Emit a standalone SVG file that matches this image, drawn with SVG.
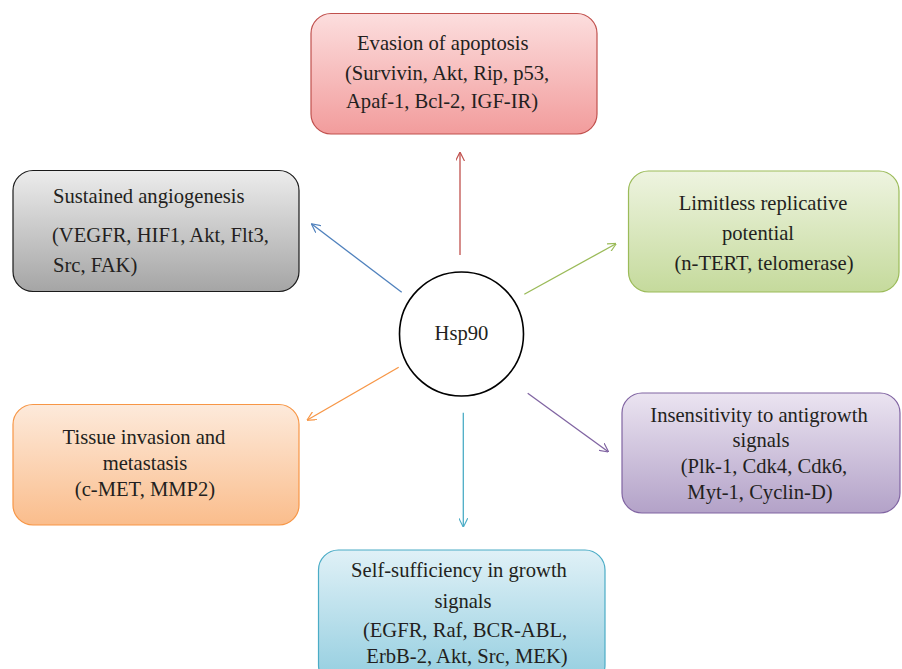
<svg xmlns="http://www.w3.org/2000/svg" width="902" height="669" viewBox="0 0 902 669">
<style>
text{font-family:"Liberation Serif","Times New Roman",serif;font-size:20.6px;fill:#231f20}
.m{text-anchor:middle}
.c{fill:none;stroke-width:1.3}
.b{stroke-width:1.2}
</style>
<defs>
<linearGradient id="gr" x1="0" y1="0" x2="0" y2="1"><stop offset="0" stop-color="#fcdede"/><stop offset="1" stop-color="#f29c9c"/></linearGradient>
<linearGradient id="gg" x1="0" y1="0" x2="0" y2="1"><stop offset="0" stop-color="#ececec"/><stop offset="1" stop-color="#a5a5a5"/></linearGradient>
<linearGradient id="gn" x1="0" y1="0" x2="0" y2="1"><stop offset="0" stop-color="#eef4e0"/><stop offset="1" stop-color="#c5da9c"/></linearGradient>
<linearGradient id="go" x1="0" y1="0" x2="0" y2="1"><stop offset="0" stop-color="#fdeadb"/><stop offset="1" stop-color="#fabd8c"/></linearGradient>
<linearGradient id="gp" x1="0" y1="0" x2="0" y2="1"><stop offset="0" stop-color="#ebe4f1"/><stop offset="1" stop-color="#b3a2c8"/></linearGradient>
<linearGradient id="gc" x1="0" y1="0" x2="0" y2="1"><stop offset="0" stop-color="#e0f1f7"/><stop offset="1" stop-color="#92cddf"/></linearGradient>
<marker id="ar_r" viewBox="0 0 10 10" refX="9.5" refY="5" markerWidth="9" markerHeight="9" markerUnits="userSpaceOnUse" orient="auto"><path d="M0,0 L10,5 L0,10" fill="none" stroke="#c0504d" stroke-width="1.3"/></marker>
<marker id="ar_b" viewBox="0 0 10 10" refX="9.5" refY="5" markerWidth="9" markerHeight="9" markerUnits="userSpaceOnUse" orient="auto"><path d="M0,0 L10,5 L0,10" fill="none" stroke="#4f81bd" stroke-width="1.3"/></marker>
<marker id="ar_g" viewBox="0 0 10 10" refX="9.5" refY="5" markerWidth="9" markerHeight="9" markerUnits="userSpaceOnUse" orient="auto"><path d="M0,0 L10,5 L0,10" fill="none" stroke="#9bbb59" stroke-width="1.3"/></marker>
<marker id="ar_o" viewBox="0 0 10 10" refX="9.5" refY="5" markerWidth="9" markerHeight="9" markerUnits="userSpaceOnUse" orient="auto"><path d="M0,0 L10,5 L0,10" fill="none" stroke="#f79646" stroke-width="1.3"/></marker>
<marker id="ar_p" viewBox="0 0 10 10" refX="9.5" refY="5" markerWidth="9" markerHeight="9" markerUnits="userSpaceOnUse" orient="auto"><path d="M0,0 L10,5 L0,10" fill="none" stroke="#8064a2" stroke-width="1.3"/></marker>
<marker id="ar_c" viewBox="0 0 10 10" refX="9.5" refY="5" markerWidth="9" markerHeight="9" markerUnits="userSpaceOnUse" orient="auto"><path d="M0,0 L10,5 L0,10" fill="none" stroke="#4bacc6" stroke-width="1.3"/></marker>
</defs>
<rect width="902" height="669" fill="#ffffff"/>
<g id="connectors">
<line class="c" x1="460" y1="255" x2="460" y2="152.5" stroke="#c0504d" marker-end="url(#ar_r)"/>
<line class="c" x1="401.7" y1="292.3" x2="311.7" y2="224" stroke="#4f81bd" marker-end="url(#ar_b)"/>
<line class="c" x1="524.3" y1="294.3" x2="616" y2="243.7" stroke="#9bbb59" marker-end="url(#ar_g)"/>
<line class="c" x1="398.7" y1="367.3" x2="307.3" y2="420" stroke="#f79646" marker-end="url(#ar_o)"/>
<line class="c" x1="527.7" y1="393.3" x2="608.3" y2="451.7" stroke="#8064a2" marker-end="url(#ar_p)"/>
<line class="c" x1="463.3" y1="412.7" x2="463.3" y2="526.7" stroke="#4bacc6" marker-end="url(#ar_c)"/>
</g>
<g id="hsp90">
<circle cx="461.5" cy="334" r="62" fill="#ffffff" stroke="#000000" stroke-width="1.6"/>
<text class="m" x="461.5" y="339.5">Hsp90</text>
</g>
<g id="evasion">
<rect class="b" x="311" y="13.5" width="286" height="120.5" rx="20" fill="url(#gr)" stroke="#c0504d"/>
<text x="357" y="50">Evasion of apoptosis</text>
<text x="345" y="80">(Survivin, Akt, Rip, p53,</text>
<text x="346" y="108">Apaf-1, Bcl-2, IGF-IR)</text>
</g>
<g id="angiogenesis">
<rect class="b" x="13" y="170.5" width="286" height="121" rx="20" fill="url(#gg)" stroke="#1a1a1a"/>
<text x="53" y="203">Sustained angiogenesis</text>
<text x="52" y="241.5">(VEGFR, HIF1, Akt, Flt3,</text>
<text x="53" y="272">Src, FAK)</text>
</g>
<g id="limitless">
<rect class="b" x="628.5" y="171" width="270.5" height="121" rx="20" fill="url(#gn)" stroke="#9bbb59"/>
<text class="m" x="763" y="210">Limitless replicative</text>
<text class="m" x="758" y="240">potential</text>
<text class="m" x="764" y="270">(n-TERT, telomerase)</text>
</g>
<g id="invasion">
<rect class="b" x="13" y="404.5" width="286" height="120.5" rx="20" fill="url(#go)" stroke="#f79646"/>
<text class="m" x="144" y="443.5">Tissue invasion and</text>
<text class="m" x="145" y="470">metastasis</text>
<text class="m" x="145" y="496">(c-MET, MMP2)</text>
</g>
<g id="insensitivity">
<rect class="b" x="622" y="393" width="278" height="120" rx="20" fill="url(#gp)" stroke="#8064a2"/>
<text class="m" x="759" y="422">Insensitivity to antigrowth</text>
<text class="m" x="761" y="447">signals</text>
<text class="m" x="764" y="473">(Plk-1, Cdk4, Cdk6,</text>
<text class="m" x="760" y="499">Myt-1, Cyclin-D)</text>
</g>
<g id="selfsufficiency">
<rect class="b" x="318.5" y="550" width="286.5" height="135" rx="20" fill="url(#gc)" stroke="#4bacc6"/>
<text class="m" x="459" y="577">Self-sufficiency in growth</text>
<text class="m" x="463" y="608">signals</text>
<text class="m" x="465" y="637">(EGFR, Raf, BCR-ABL,</text>
<text class="m" x="467" y="663">ErbB-2, Akt, Src, MEK)</text>
</g>
</svg>
